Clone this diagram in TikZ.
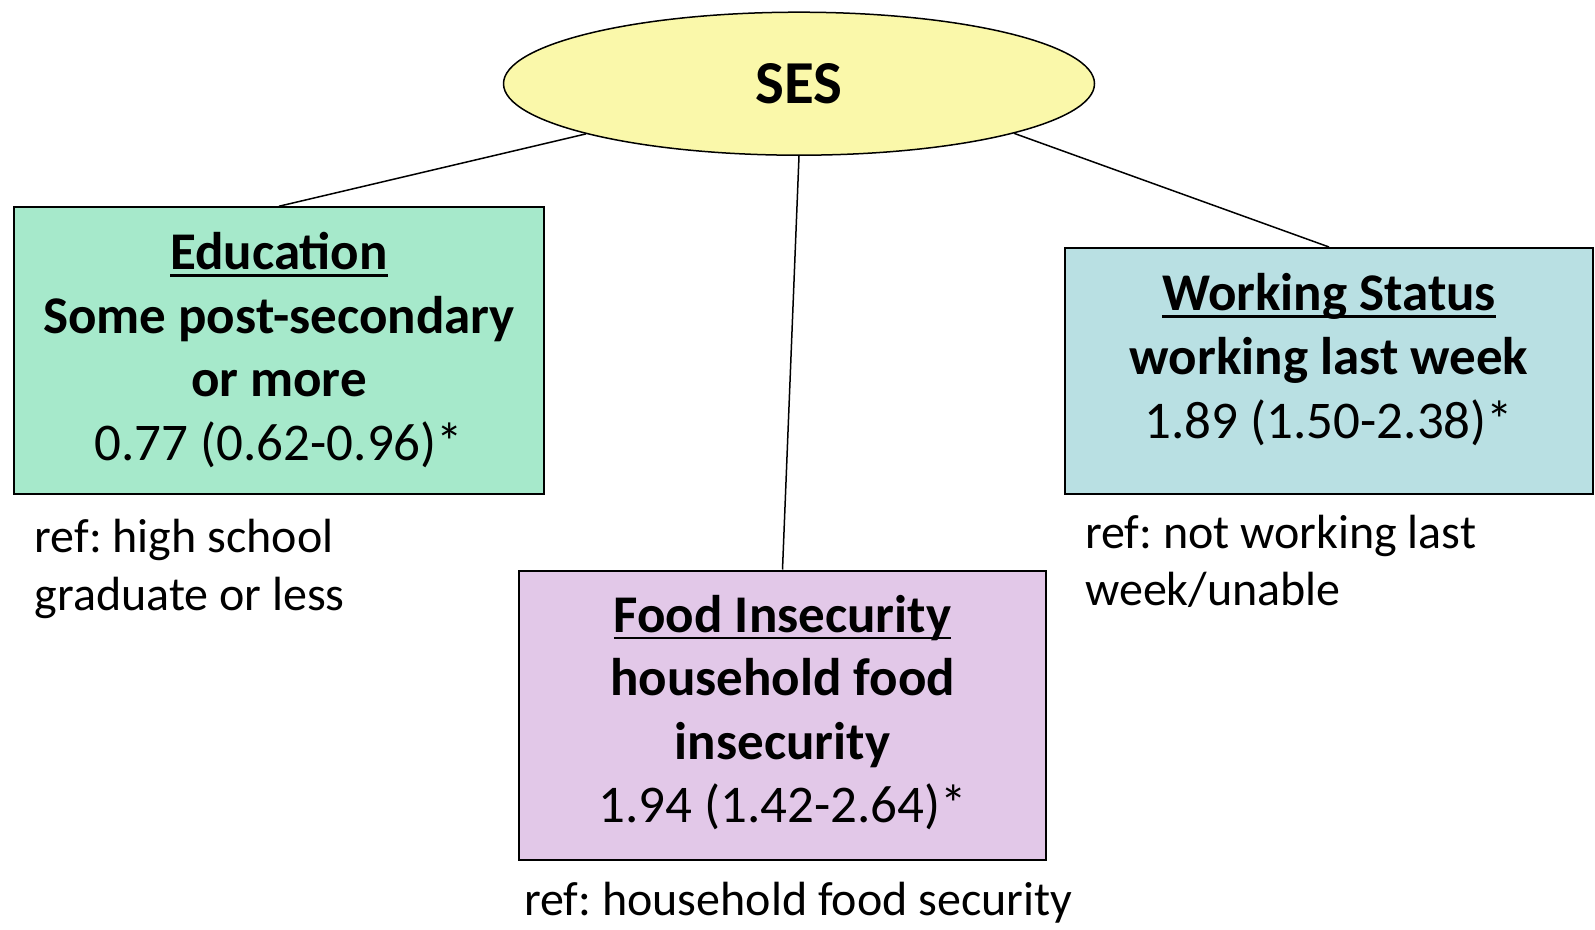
\documentclass[tikz,border=0pt]{standalone}
\usepackage{fontspec}
\setmainfont{Carlito}
\usetikzlibrary{shapes.geometric}
\definecolor{sesyellow}{RGB}{250,248,170}
\definecolor{edugreen}{RGB}{166,233,203}
\definecolor{workblue}{RGB}{185,224,227}
\definecolor{foodpurple}{RGB}{226,200,232}
\frenchspacing
\newcommand\ulx[1]{\setbox0=\hbox{#1}\rlap{\rule[-0.14em]{\wd0}{0.055em}}\box0}
\newcommand\bigbf{\fontsize{53}{63}\selectfont\bfseries}
\newcommand\bigrm{\fontsize{53}{63}\selectfont}
\newcommand\refrm{\fontsize{48}{58}\selectfont}
\begin{document}
\begin{tikzpicture}[x=1pt,y=-1pt,
  boxstyle/.style={draw=black,line width=2pt,rectangle,inner sep=0pt},
  conn/.style={draw=black,line width=1.5pt},
  tb/.style={anchor=base,inner sep=0pt,font=\bigbf},
  tr/.style={anchor=base,inner sep=0pt,font=\bigrm},
  reftext/.style={anchor=base west,inner sep=0pt,font=\refrm}]
\useasboundingbox (0,0) rectangle (1595,929);
% boxes
\node[boxstyle,fill=edugreen,minimum width=530pt,minimum height=287pt] (edu) at (279,350.75) {};
\node[boxstyle,fill=workblue,minimum width=528pt,minimum height=246pt] (work) at (1329,371) {};
\node[boxstyle,fill=foodpurple,minimum width=527pt,minimum height=289.5pt] (food) at (782.5,715.25) {};
\node[ellipse,draw=black,line width=1.5pt,fill=sesyellow,minimum width=591pt,minimum height=143pt,inner sep=0pt,font=\fontsize{61}{70}\selectfont\bfseries] (ses) at (799,83.7) {SES};
% connectors
\draw[conn] (ses) -- (edu.north);
\draw[conn] (ses.south) -- (food.north);
\draw[conn] (ses.-13.5) -- (work.north);
% education text
\node[tb] (edu1) at (279,269.7) {\ulx{Education}};
\node[tb] (edu2) at (279,333) {Some post-secondary};
\node[tb] (edu3) at (279,396.5) {or more};
\node[tr] (edu4) at (279,460) {0.77 (0.62-0.96)*};
% working text
\node[tb] (work1) at (1329,310.3) {\ulx{Working Status}};
\node[tb] (work2) at (1329,374) {working last week};
\node[tr] (work3) at (1329,438.5) {1.89 (1.50-2.38)*};
% food text
\node[tb] (food1) at (782.5,632) {\ulx{Food Insecurity}};
\node[tb] (food2) at (782.5,695.5) {household food};
\node[tb] (food3) at (782.5,759.2) {insecurity};
\node[tr] (food4) at (782.5,822.8) {1.94 (1.42-2.64)*};
% reference labels
\node[reftext] (eduref1) at (34.6,552.5) {ref: high school};
\node[reftext] (eduref2) at (34.6,610.5) {graduate or less};
\node[reftext] (workref1) at (1085,548.5) {ref: not working last};
\node[reftext] (workref2) at (1085,605.5) {week/unable};
\node[reftext] (foodref) at (524,915) {ref: household food security};
\end{tikzpicture}
\end{document}
